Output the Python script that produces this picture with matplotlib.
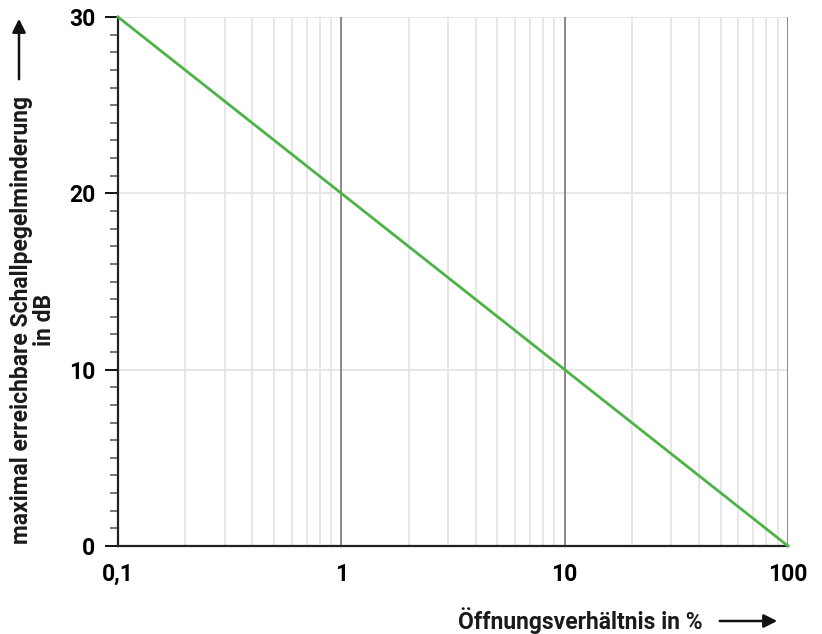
import numpy as np
import matplotlib.pyplot as plt
from matplotlib.patches import FancyArrowPatch
from matplotlib.ticker import FixedLocator, NullFormatter

plt.rcParams['font.family'] = ['Roboto', 'DejaVu Sans']

# data: opening ratio (%) vs max. achievable sound level reduction (dB)
ratio = [0.1, 1, 10, 100]
reduction = [30, 20, 10, 0]
x_ticks = [0.1, 1, 10, 100]
x_labels = ['0,1', '1', '10', '100']
y_ticks = [0, 10, 20, 30]

fig = plt.figure(figsize=(8.22, 6.34), dpi=100)
ax = fig.add_axes([118 / 822, 1 - 546 / 634, (788 - 118) / 822, (546 - 17) / 634])

ax.set_xscale('log')
ax.set_xlim(0.1, 100)
ax.set_ylim(0, 30)

# grid
minor_x = [m * d for d in [0.1, 1, 10] for m in range(2, 10)]
for xv in minor_x:
    ax.axvline(xv, color='#e3e3e3', lw=1.2, zorder=0)
for xv in [1, 10, 100]:
    ax.axvline(xv, color='#808080', lw=1.3, zorder=1)
for yv in [10, 20, 30]:
    ax.axhline(yv, color='#e3e3e3', lw=1.2, zorder=0)

ax.plot(ratio, reduction, color='#4db347', lw=2, zorder=3, clip_on=False)

ax.set_xticks(x_ticks)
ax.set_xticklabels(x_labels)
ax.xaxis.set_minor_locator(FixedLocator([]))
ax.xaxis.set_minor_formatter(NullFormatter())
ax.set_yticks(y_ticks)
ax.yaxis.set_minor_locator(FixedLocator(np.arange(0, 31, 1)))
ax.tick_params(axis='x', length=0, pad=12, labelsize=16.5)
ax.tick_params(axis='y', which='major', length=9.5, width=1.3, labelsize=16.5, pad=7)
ax.tick_params(axis='y', which='minor', length=6, width=1.1, color='#555555')
for lab in ax.get_xticklabels() + ax.get_yticklabels():
    lab.set_fontweight('bold')

for s in ['top', 'right']:
    ax.spines[s].set_visible(False)
ax.spines['left'].set_linewidth(1.6)
ax.spines['bottom'].set_linewidth(1.6)
ax.spines['left'].set_color('#222222')
ax.spines['bottom'].set_color('#222222')

# axis labels with arrows
fig.text(703 / 822, 1 - 621 / 634, 'Öffnungsverhältnis in %', ha='right', va='center',
         fontsize=16.5, fontweight='bold', color='#1a1a1a')
fig.add_artist(FancyArrowPatch(
    (717 / 822, 1 - 621 / 634), (780 / 822, 1 - 621 / 634), transform=fig.transFigure,
    arrowstyle='-|>', mutation_scale=20, lw=1.8, color='#111111'))

fig.text(33 / 822, 1 - 320 / 634, 'maximal erreichbare Schallpegelminderung\nin dB',
         ha='center', va='center', rotation=90, fontsize=16.5, fontweight='bold',
         multialignment='center', linespacing=1.0, color='#1a1a1a')
fig.add_artist(FancyArrowPatch(
    (19 / 822, 1 - 82 / 634), (19 / 822, 1 - 16 / 634), transform=fig.transFigure,
    arrowstyle='-|>', mutation_scale=20, lw=1.8, color='#111111'))

fig.savefig('out.png', dpi=100)
